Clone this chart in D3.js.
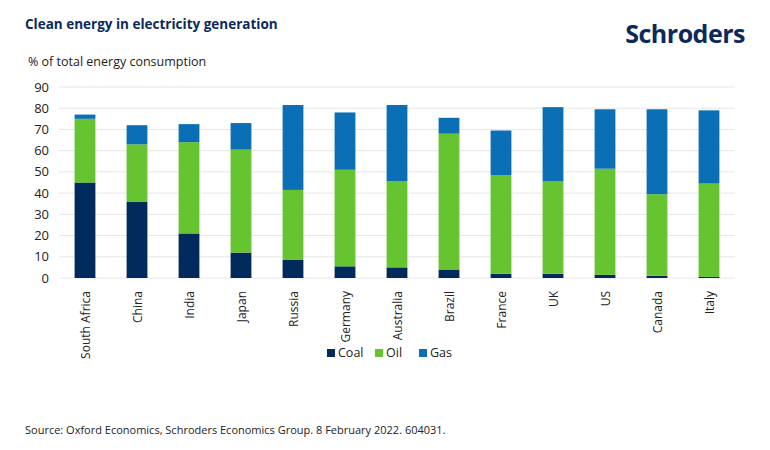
<!DOCTYPE html>
<meta charset="utf-8">
<script src="https://cdn.jsdelivr.net/npm/d3@7"></script>
<body style="margin:0;background:#fff">
<style>
text { font-family: "Open Sans", "Noto Sans", sans-serif; }
</style>
<svg id="chart" width="770" height="450"></svg>
<script>
var countries = ["South Africa","China","India","Japan","Russia","Germany","Australia","Brazil","France","UK","US","Canada","Italy"];
var coal = [45, 36, 21, 12, 8.5, 5.5, 5, 4, 2, 2, 1.5, 1, 0.5];
var oil  = [30, 27, 43, 48.5, 33, 45.5, 40.5, 64, 46.5, 43.5, 50, 38.5, 44];
var gas  = [2, 9, 8.5, 12.5, 40, 27, 36, 7.5, 21, 35, 28, 40, 34.5];
var seriesNames = ["Coal","Oil","Gas"];
var colors = ["#002a5c", "#66c430", "#0a6fb5"];
var yTicks = [0,10,20,30,40,50,60,70,80,90];

var svg = d3.select("#chart");
var rows = countries.map(function(c, i) { return {country: c, Coal: coal[i], Oil: oil[i], Gas: gas[i]}; });
var stack = d3.stack().keys(seriesNames)(rows);

var x = d3.scaleBand().domain(countries).range([59, 735]).paddingInner(0.6).paddingOuter(0.3);
var y = d3.scaleLinear().domain([0, 90]).range([278, 87]);

// grid
svg.append("g").selectAll("line").data(yTicks).join("line")
    .attr("x1", 59).attr("x2", 735)
    .attr("y1", d => y(d)).attr("y2", d => y(d))
    .attr("stroke", "#e6e6e6").attr("stroke-width", 1);

// y labels
svg.append("g").selectAll("text").data(yTicks).join("text")
    .attr("x", 49).attr("y", d => y(d) + 4.5)
    .attr("text-anchor", "end").attr("font-size", 13).attr("fill", "#222")
    .text(d => d);

// bars
svg.append("g").selectAll("g").data(stack).join("g")
    .attr("fill", (d, i) => colors[i])
    .selectAll("rect").data(d => d).join("rect")
    .attr("x", d => x(d.data.country))
    .attr("width", x.bandwidth())
    .attr("y", d => y(d[1]))
    .attr("height", d => y(d[0]) - y(d[1]));

// x labels
svg.append("g").selectAll("text").data(countries).join("text")
    .attr("transform", d => "translate(" + (x(d) + x.bandwidth() / 2 + 4.5) + ",291) rotate(-90)")
    .attr("text-anchor", "end").attr("font-size", 12).attr("fill", "#222")
    .text(d => d);

// legend
var legend = svg.append("g").attr("transform", "translate(327,357)");
var lx = [0, 48, 92];
seriesNames.forEach(function(s, i) {
    legend.append("rect").attr("x", lx[i]).attr("y", -8).attr("width", 8).attr("height", 8).attr("fill", colors[i]);
    legend.append("text").attr("x", lx[i] + 11).attr("y", 0).attr("font-size", 12.5).attr("fill", "#222").text(s);
});

// titles
svg.append("text").attr("x", 25).attr("y", 29).attr("font-size", 13.5).attr("font-weight", "bold")
    .attr("fill", "#0b2a5b").text("Clean energy in electricity generation");
svg.append("text").attr("x", 28).attr("y", 66).attr("font-size", 12.5).attr("fill", "#222")
    .text("% of total energy consumption");
svg.append("text").attr("x", 745).attr("y", 43).attr("text-anchor", "end").attr("font-size", 25)
    .attr("font-weight", "bold").attr("fill", "#0b2a5b").attr("letter-spacing", -0.5).text("Schroders");
svg.append("text").attr("x", 25).attr("y", 434).attr("font-size", 11).attr("fill", "#222")
    .text("Source: Oxford Economics, Schroders Economics Group. 8 February 2022. 604031.");
</script>
</body>
